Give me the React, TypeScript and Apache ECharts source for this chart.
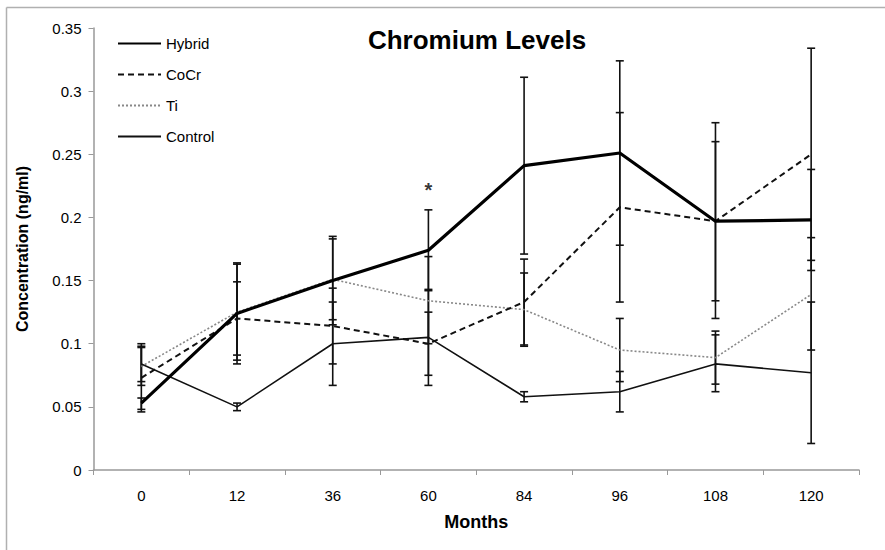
import React, { useEffect, useRef } from "react";
import * as echarts from "echarts";

const months = ["0", "12", "36", "60", "84", "96", "108", "120"];

const hybrid = [0.053, 0.124, 0.15, 0.174, 0.241, 0.251, 0.197, 0.198];
const cocr = [0.073, 0.12, 0.114, 0.1, 0.133, 0.208, 0.197, 0.25];
const ti = [0.082, 0.125, 0.151, 0.134, 0.127, 0.095, 0.089, 0.139];
const control = [0.084, 0.05, 0.1, 0.105, 0.058, 0.062, 0.084, 0.077];

const hybridLow = [0.046, 0.084, 0.115, 0.142, 0.171, 0.178, 0.12, 0.158];
const hybridHigh = [0.057, 0.164, 0.185, 0.206, 0.311, 0.324, 0.275, 0.238];
const cocrLow = [0.048, 0.091, 0.084, 0.075, 0.099, 0.133, 0.134, 0.166];
const cocrHigh = [0.098, 0.149, 0.144, 0.125, 0.167, 0.283, 0.26, 0.334];
const tiLow = [0.067, 0.087, 0.119, 0.1, 0.098, 0.07, 0.068, 0.095];
const tiHigh = [0.097, 0.163, 0.183, 0.169, 0.156, 0.12, 0.11, 0.184];
const controlLow = [0.07, 0.047, 0.067, 0.067, 0.054, 0.046, 0.062, 0.021];
const controlHigh = [0.1, 0.053, 0.133, 0.143, 0.062, 0.078, 0.107, 0.133];

const yTicks = { min: 0, max: 0.35, interval: 0.05 };
const significantIndex = 3;

const FONT = "Liberation Sans, Arial, sans-serif";

function errorSeries(low: number[], high: number[]) {
  return {
    type: "custom",
    silent: true,
    z: 1,
    data: low.map((l, i) => [i, l, high[i]]),
    encode: { x: 0, y: [1, 2] },
    renderItem: (_params: any, api: any) => {
      const x = api.value(0);
      const lo = api.coord([x, api.value(1)]);
      const hi = api.coord([x, api.value(2)]);
      const w = 4;
      const style = { stroke: "#111", lineWidth: 1.6, fill: "none" };
      return {
        type: "group",
        children: [
          { type: "line", shape: { x1: lo[0], y1: lo[1], x2: hi[0], y2: hi[1] }, style },
          { type: "line", shape: { x1: lo[0] - w, y1: lo[1], x2: lo[0] + w, y2: lo[1] }, style },
          { type: "line", shape: { x1: hi[0] - w, y1: hi[1], x2: hi[0] + w, y2: hi[1] }, style },
        ],
      };
    },
  };
}

export default function App() {
  const ref = useRef<HTMLDivElement>(null);
  useEffect(() => {
    if (!ref.current) return;
    const chart = echarts.init(ref.current, null, { renderer: "svg" });
    chart.setOption({
      animation: false,
      backgroundColor: "#fff",
      textStyle: { fontFamily: FONT },
      graphic: [
        {
          type: "line",
          shape: { x1: 6.5, y1: 7.5, x2: 885, y2: 7.5 },
          style: { stroke: "#b0b0b0", lineWidth: 1.5 },
          silent: true,
        },
        {
          type: "line",
          shape: { x1: 6.5, y1: 7.5, x2: 6.5, y2: 550 },
          style: { stroke: "#b0b0b0", lineWidth: 1.5 },
          silent: true,
        },
        {
          type: "text",
          x: 477,
          y: 40,
          style: {
            text: "Chromium Levels",
            fontFamily: FONT,
            fontWeight: "bold",
            fontSize: 26,
            fill: "#000",
            textAlign: "center",
            textVerticalAlign: "middle",
          },
        },
      ],
      legend: {
        orient: "vertical",
        left: 112,
        top: 31,
        itemWidth: 43,
        itemHeight: 14,
        itemGap: 16,
        data: ["Hybrid", "CoCr", "Ti", "Control"],
        itemStyle: { opacity: 0, borderWidth: 0 },
        textStyle: { fontFamily: FONT, fontSize: 15, color: "#000" },
      },
      grid: { left: 93.5, right: 26, top: 28, bottom: 80, containLabel: false },
      xAxis: {
        type: "category",
        data: months,
        boundaryGap: true,
        name: "Months",
        nameLocation: "middle",
        nameGap: 43,
        nameTextStyle: { fontFamily: FONT, fontWeight: "bold", fontSize: 18, color: "#000" },
        axisLine: { lineStyle: { color: "#999", width: 1.5 } },
        axisTick: { show: true, interval: 0, alignWithLabel: false, length: 5, lineStyle: { color: "#999" } },
        axisLabel: { fontFamily: FONT, fontSize: 15, color: "#000", margin: 18, interval: 0 },
        splitLine: { show: false },
      },
      yAxis: {
        type: "value",
        min: yTicks.min,
        max: yTicks.max,
        interval: yTicks.interval,
        name: "Concentration (ng/ml)",
        nameLocation: "middle",
        nameGap: 63,
        nameTextStyle: { fontFamily: FONT, fontWeight: "bold", fontSize: 16, color: "#000" },
        axisLine: { show: true, lineStyle: { color: "#999", width: 1.5 } },
        axisTick: { show: true, length: 5, lineStyle: { color: "#999" } },
        axisLabel: { fontFamily: FONT, fontSize: 15, color: "#000", margin: 12 },
        splitLine: { show: false },
      },
      series: [
        errorSeries(hybridLow, hybridHigh),
        errorSeries(cocrLow, cocrHigh),
        errorSeries(tiLow, tiHigh),
        errorSeries(controlLow, controlHigh),
        {
          name: "Hybrid",
          type: "line",
          data: hybrid,
          symbol: "none",
          z: 5,
          itemStyle: { color: "#000" },
          lineStyle: { color: "#000", width: 3.2, type: "solid" },
        },
        {
          name: "CoCr",
          type: "line",
          data: cocr,
          symbol: "none",
          z: 4,
          itemStyle: { color: "#111" },
          lineStyle: { color: "#111", width: 2, type: [6, 4] },
        },
        {
          name: "Ti",
          type: "line",
          data: ti,
          symbol: "none",
          z: 3,
          itemStyle: { color: "#888" },
          lineStyle: { color: "#888", width: 1.6, type: [2, 2] },
        },
        {
          name: "Control",
          type: "line",
          data: control,
          symbol: "none",
          z: 4,
          itemStyle: { color: "#111" },
          lineStyle: { color: "#111", width: 1.6, type: "solid" },
        },
        {
          type: "scatter",
          silent: true,
          symbolSize: 0,
          data: [[significantIndex, hybridHigh[significantIndex]]],
          label: {
            show: true,
            formatter: "*",
            position: "top",
            distance: 10,
            fontFamily: FONT,
            fontWeight: "bold",
            fontSize: 20,
            color: "#000",
          },
        },
      ],
    });
    return () => chart.dispose();
  }, []);
  return (
    <div
      ref={ref}
      style={{ position: "fixed", left: 0, top: 0, width: 885, height: 550 }}
    />
  );
}
